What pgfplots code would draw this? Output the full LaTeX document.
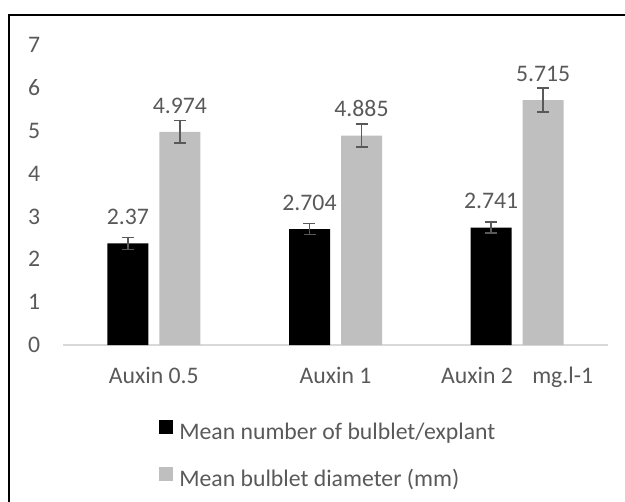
\documentclass[border=0pt]{standalone}
\usepackage{pgfplots}
\pgfplotsset{compat=1.18}
\usepackage{fontspec}
\setmainfont{Carlito}
\definecolor{txt}{HTML}{595959}
\definecolor{barg}{HTML}{BFBFBF}
\definecolor{axl}{HTML}{D9D9D9}
\newcommand{\myfont}{\fontsize{17.8pt}{21pt}\selectfont}
\begin{document}
\begin{tikzpicture}
\path[use as bounding box] (0,0) rectangle (468.75pt,375.75pt);
\draw[black, line width=1.5pt] (7.1pt,-2pt) -- (7.1pt,364.5pt) -- (470pt,364.5pt);
\begin{axis}[
  at={(47.25pt,117pt)}, anchor=south west,
  scale only axis, width=408.75pt, height=225pt,
  ybar, bar width=30.75pt,
  ymin=0, ymax=7, xmin=-0.5, xmax=2.5,
  xtick={0,1,2},
  xticklabels={Auxin 0.5, Auxin 1, {Auxin 2\hspace{14.5pt}mg.l-1}},
  ytick={0,1,2,3,4,5,6,7},
  axis line style={draw=none},
  major tick length=0pt,
  tick style={draw=none},
  /pgf/number format/assume math mode=true,
  every tick label/.append style={font=\myfont, text=txt},
  yticklabel style={anchor=east, inner sep=0pt, xshift=-17pt},
  xticklabel style={anchor=base, inner sep=0pt, yshift=-28.5pt},
  point meta=explicit symbolic,
  nodes near coords,
  nodes near coords style={anchor=base, yshift=14pt, font=\myfont, text=txt, inner sep=0pt},
  clip=false,
  legend style={at={(0.1762,-0.2489)}, anchor=north west, draw=none, fill=none,
    inner sep=0pt, row sep=16pt, font=\myfont, text=txt,
    nodes={inner xsep=4.5pt, inner ysep=0pt, text height=13pt, text depth=4pt}},
  legend cell align=left,
]
\draw[axl, line width=1.2pt] (axis cs:-0.5,0) -- (axis cs:2.5,0);
\addplot[fill=black, draw=none, bar shift=-19.5pt,
  legend image code/.code={\fill[black] (0pt,0pt) rectangle (10.5pt,10.5pt);},
  error bars/.cd, y dir=both, y explicit,
  error bar style={color=txt, line width=1.2pt},
  error mark options={rotate=90, mark size=4.5pt, line width=1.2pt, color=txt}]
  table[x=x, y=y, y error=e, meta=l] {
x y e l
0 2.37 0.14 2.37
1 2.704 0.13 2.704
2 2.741 0.13 2.741
};
\addlegendentry{Mean number of bulblet/explant}
\addplot[fill=barg, draw=none, bar shift=19.5pt,
  legend image code/.code={\fill[barg] (0pt,0pt) rectangle (10.5pt,10.5pt);},
  error bars/.cd, y dir=both, y explicit,
  error bar style={color=txt, line width=1.2pt},
  error mark options={rotate=90, mark size=4.5pt, line width=1.2pt, color=txt}]
  table[x=x, y=y, y error=e, meta=l] {
x y e l
0 4.974 0.26 4.974
1 4.885 0.27 4.885
2 5.715 0.28 5.715
};
\addlegendentry{Mean bulblet diameter (mm)}
\end{axis}
\end{tikzpicture}
\end{document}
